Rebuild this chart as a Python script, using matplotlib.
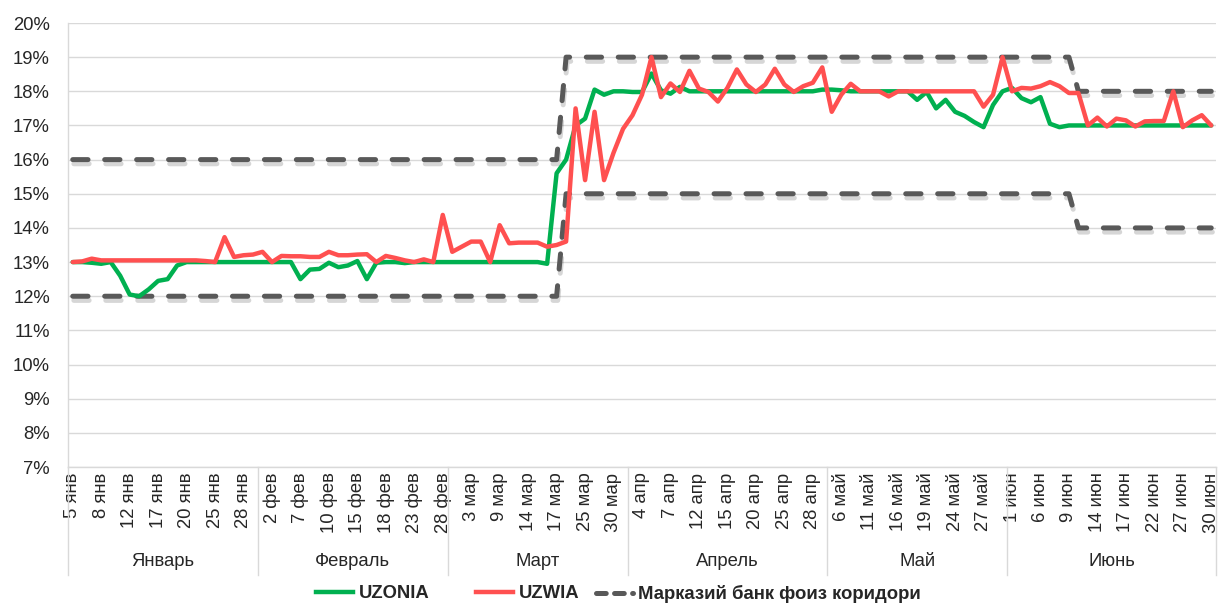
import matplotlib
matplotlib.use("Agg")
import matplotlib.pyplot as plt
import matplotlib.patheffects as pe
from matplotlib.lines import Line2D
import numpy as np

plt.rcParams['font.family'] = ['Liberation Sans', 'DejaVu Sans']
plt.rcParams['lines.scale_dashes'] = False

# ---------------- data ----------------
tick_labels = ["5 янв", "8 янв", "12 янв", "17 янв", "20 янв", "25 янв", "28 янв",
               "2 фев", "7 фев", "10 фев", "15 фев", "18 фев", "23 фев", "28 фев",
               "3 мар", "9 мар", "14 мар", "17 мар", "25 мар", "30 мар",
               "4 апр", "7 апр", "12 апр", "15 апр", "20 апр", "25 апр", "28 апр",
               "6 май", "11 май", "16 май", "19 май", "24 май", "27 май",
               "1 июн", "6 июн", "9 июн", "14 июн", "17 июн", "22 июн", "27 июн", "30 июн"]

months = ["Январь", "Февраль", "Март", "Апрель", "Май", "Июнь"]
month_days = [20, 20, 19, 21, 19, 22]   # observations per month

uzonia = [13.0, 13.0, 12.98, 12.95, 13.0, 12.6, 12.05, 12.0, 12.2, 12.45,
          12.5, 12.9, 13.0, 13.0, 13.0, 13.0, 13.0, 13.0, 13.0, 13.0,
          13.0, 13.0, 13.0, 13.0, 12.5, 12.78, 12.8, 12.98, 12.85, 12.9,
          13.03, 12.5, 12.98, 13.0, 13.0, 12.97, 13.0, 13.0, 13.0, 13.0,
          13.0, 13.0, 13.0, 13.0, 13.0, 13.0, 13.0, 13.0, 13.0, 13.0,
          12.95, 15.6, 16.0, 17.0, 17.2, 18.05, 17.9, 18.0, 18.0, 17.98,
          17.98, 18.52, 18.03, 17.93, 18.13, 18.0, 18.0, 18.0, 18.0, 18.0,
          18.0, 18.0, 18.0, 18.0, 18.0, 18.0, 18.0, 18.0, 18.0, 18.05,
          18.05, 18.03, 18.0, 18.0, 18.0, 18.0, 18.0, 18.0, 18.0, 17.75,
          17.98, 17.5, 17.75, 17.4, 17.28, 17.1, 16.95, 17.6, 18.0, 18.1,
          17.8, 17.68, 17.83, 17.05, 16.95, 17.0, 17.0, 17.0, 17.0, 17.0,
          17.0, 17.0, 17.0, 17.0, 17.0, 17.0, 17.0, 17.0, 17.0, 17.0,
          17.0]

uzwia = [13.0, 13.02, 13.1, 13.05, 13.05, 13.05, 13.05, 13.05, 13.05, 13.05,
         13.05, 13.05, 13.05, 13.05, 13.03, 13.0, 13.73, 13.15, 13.2, 13.22,
         13.3, 13.0, 13.18, 13.17, 13.17, 13.15, 13.15, 13.3, 13.2, 13.2,
         13.22, 13.23, 13.0, 13.18, 13.12, 13.05, 13.0, 13.08, 13.0, 14.38,
         13.3, 13.45, 13.6, 13.6, 13.0, 14.08, 13.55, 13.57, 13.57, 13.57,
         13.45, 13.5, 13.6, 17.5, 15.4, 17.4, 15.4, 16.2, 16.9, 17.3,
         17.9, 19.0, 17.83, 18.23, 17.98, 18.6, 18.08, 17.98, 17.7, 18.1,
         18.64, 18.2, 17.98, 18.2, 18.66, 18.2, 17.98, 18.15, 18.25, 18.7,
         17.4, 17.9, 18.22, 18.0, 18.0, 18.0, 17.85, 18.0, 18.0, 18.0,
         18.0, 18.0, 18.0, 18.0, 18.0, 18.0, 17.55, 17.9, 19.0, 18.0,
         18.1, 18.08, 18.15, 18.27, 18.15, 17.95, 17.95, 17.0, 17.23, 16.97,
         17.2, 17.15, 16.97, 17.12, 17.13, 17.13, 18.0, 16.95, 17.15, 17.3,
         17.0]

corridor_upper = [16.0] * 52 + [19.0] * 54 + [18.0] * 15
corridor_lower = [12.0] * 52 + [15.0] * 54 + [14.0] * 15

# ---------------- figure ----------------
FS = 13.3
text_c = '#262626'
green = '#00B050'
red = '#FF5050'
dgray = '#595959'
grid_c = '#D9D9D9'

fig = plt.figure(figsize=(12.19, 6.03), dpi=100)
ax = fig.add_axes([68/1219, 1-467/603, (1216-68)/1219, (467-23)/603])

x = np.arange(len(uzonia))

shadow = [pe.SimpleLineShadow(offset=(0.8, -3.0), shadow_color='#000000', alpha=0.16),
          pe.Normal()]
ax.plot(x, corridor_upper, color=dgray, lw=3.6, dashes=(11, 12),
        dash_capstyle='round', path_effects=shadow, zorder=3)
ax.plot(x, corridor_lower, color=dgray, lw=3.6, dashes=(11, 12),
        dash_capstyle='round', path_effects=shadow, zorder=3)
ax.plot(x, uzonia, color=green, lw=3.2, solid_joinstyle='round',
        solid_capstyle='round', zorder=4)
ax.plot(x, uzwia, color=red, lw=3.2, solid_joinstyle='round',
        solid_capstyle='round', zorder=5)

ax.set_xlim(-0.5, len(x) - 0.5)
ax.set_ylim(7, 20)
ax.set_yticks(np.arange(7, 21, 1))
ax.set_yticklabels([f"{v}%" for v in range(7, 21)], fontsize=FS)
ax.yaxis.grid(True, color=grid_c, lw=1.0)
ax.set_axisbelow(True)
ax.tick_params(axis='y', length=0, pad=13)

ax.set_xticks(np.arange(0, len(x), 3))
ax.set_xticklabels(tick_labels, rotation=90, fontsize=FS, va='top', ha='center')
ax.tick_params(axis='x', length=0, pad=4)

for s in ['top', 'right']:
    ax.spines[s].set_visible(False)
for s in ['left', 'bottom']:
    ax.spines[s].set_color(grid_c)
    ax.spines[s].set_linewidth(1.0)

# month separators and labels
trans = ax.get_xaxis_transform()
sep_bottom = -(575 - 467) / 444
bounds = np.concatenate([[0], np.cumsum(month_days)]) - 0.5
for b in bounds:
    ax.plot([b, b], [0, sep_bottom], transform=trans, color=grid_c, lw=1.0,
            clip_on=False)
for i, m in enumerate(months):
    cx = (bounds[i] + bounds[i + 1]) / 2
    ax.text(cx, -(562 - 467) / 444, m, transform=trans, ha='center', va='center',
            fontsize=FS, color=text_c)

# legend (three entries placed like the original)
entries = [("UZONIA", Line2D([0], [0], color=green, lw=3.2), 316),
           ("UZWIA", Line2D([0], [0], color=red, lw=3.2), 476),
           ("Марказий банк фоиз коридори",
            Line2D([0], [0], color=dgray, lw=3.6, dashes=(7, 6), dash_capstyle='round'), 596)]
for label, h, px in entries:
    fig.legend([h], [label], loc='center left', bbox_to_anchor=(px/1219, 1-594/603),
               frameon=False, prop={'weight': 'bold', 'size': FS}, handlelength=2.0,
               handletextpad=0.3, borderpad=0, borderaxespad=0, labelcolor=text_c)

for lbl in ax.get_xticklabels() + ax.get_yticklabels():
    lbl.set_color(text_c)

fig.savefig("out.png", dpi=100)
